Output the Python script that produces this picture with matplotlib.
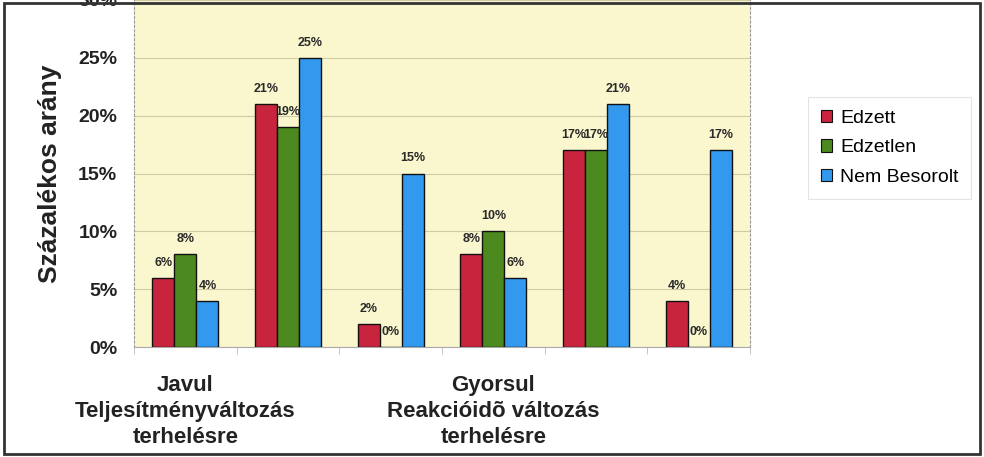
import matplotlib
matplotlib.use("Agg")
import matplotlib.pyplot as plt
import numpy as np
from matplotlib.patches import Rectangle

plt.rcParams['font.family'] = ['Liberation Sans', 'DejaVu Sans']

series = ["Edzett", "Edzetlen", "Nem Besorolt"]
edzett = [6, 21, 2, 8, 17, 4]
edzetlen = [8, 19, 0, 10, 17, 0]
nem_besorolt = [4, 25, 15, 6, 21, 17]
group_labels = ["Javul\nTeljesítményváltozás\nterhelésre", "", "",
                "Gyorsul\nReakcióidõ változás\nterhelésre", "", ""]
yticks = [0, 5, 10, 15, 20, 25, 30]
colors = ["#C8243E", "#4C8A20", "#3399EE"]

fig = plt.figure(figsize=(9.84, 4.57), dpi=100)
ax = fig.add_axes([134/984, 110/457, 616/984, 347/457])
ax.set_facecolor("#FAF7CF")

x = np.arange(len(edzett))
w = 0.215
for i, (vals, c, name) in enumerate(zip([edzett, edzetlen, nem_besorolt], colors, series)):
    pos = x + (i - 1) * w
    ax.bar(pos, vals, w, color=c, edgecolor="#111111", linewidth=1.0, label=name, zorder=3)
    for p, v in zip(pos, vals):
        ax.text(p, v + 1.3, f"{v}%", ha="center", va="center", fontsize=9,
                fontweight="bold", color="#2a2a2a", zorder=4)

ax.set_xlim(-0.5, len(edzett) - 0.5)
ax.set_ylim(0, 30)
ax.set_yticks(yticks)
ax.set_yticklabels([f"{t}%" for t in yticks], fontsize=14, fontweight="bold", color="#222222")
ax.yaxis.grid(True, color="#CFCBA5", linewidth=0.8, zorder=0)
ax.set_xticks(x)
ax.set_xticklabels(group_labels, fontsize=16, fontweight="bold", color="#222222", linespacing=1.32)
ax.tick_params(axis="x", length=0, pad=20)
ax.set_xticks(np.arange(-0.5, len(edzett), 1), minor=True)
ax.tick_params(axis="x", which="minor", length=5, color="#BBBBBB")
ax.tick_params(axis="y", length=0, pad=12)

for s in ["left", "right"]:
    ax.spines[s].set_color("#999999")
    ax.spines[s].set_linestyle((0, (2, 2)))
    ax.spines[s].set_linewidth(0.8)
ax.spines["top"].set_visible(False)
ax.spines["bottom"].set_color("#AAAAAA")
ax.spines["bottom"].set_linewidth(0.8)

ax.set_ylabel("Százalékos arány", fontsize=19, fontweight="bold", color="#222222", labelpad=12)

leg = fig.legend(loc="upper left", bbox_to_anchor=(808/984, 1 - 97/457), fontsize=14,
                 frameon=True, fancybox=False, edgecolor="#DDDDDD", handlelength=0.6,
                 handleheight=0.6, handletextpad=0.4, labelspacing=0.65, borderpad=0.65,
                 borderaxespad=0)
leg.get_frame().set_linewidth(0.8)
for h in leg.legend_handles:
    h.set_edgecolor("#111111")
    h.set_linewidth(0.8)

fig.patches.append(Rectangle((4/984, 3/457), 976/984, 451/457, transform=fig.transFigure,
                             fill=False, edgecolor="#333333", linewidth=2.0, zorder=10))

fig.savefig("out.png", dpi=100)
